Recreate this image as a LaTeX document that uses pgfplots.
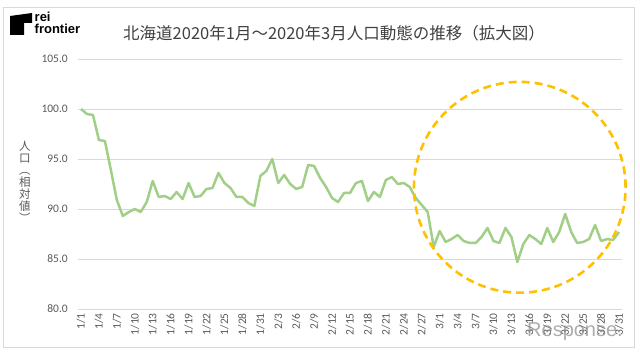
\documentclass[border=0pt]{standalone}
\usepackage{pgfplots}
\pgfplotsset{compat=1.18}
\usepackage{fontspec}
\setmainfont{Carlito}
\newfontfamily\cjk{Noto Sans CJK JP}
\newfontfamily\logofont{Liberation Sans}
\definecolor{linegreen}{HTML}{A2CF88}
\definecolor{circ}{HTML}{FFC000}
\definecolor{gridgray}{HTML}{D9D9D9}
\definecolor{txtgray}{HTML}{595959}
\definecolor{titlegray}{HTML}{404040}
\begin{document}
\begin{tikzpicture}
\path[use as bounding box] (0,0) rectangle (640pt,353pt);
\draw[gridgray, line width=0.8pt] (3pt,6pt) rectangle (634pt,346pt);
% logo
\fill[black] (10pt,337pt) -- (32pt,340pt) -- (32pt,330pt) -- (24pt,330pt) -- (24pt,318pt) -- (10pt,318pt) -- cycle;
\node[anchor=base west, inner sep=0pt, font=\logofont\bfseries\fontsize{13}{13}\selectfont] at (34.5pt,331.5pt) {rei};
\node[anchor=base west, inner sep=0pt, font=\logofont\bfseries\fontsize{13}{13}\selectfont] at (34.5pt,319pt) {frontier};
% title
\node[font=\cjk\fontsize{16.5}{16.5}\selectfont, text=titlegray, inner sep=0pt] at (334pt,320pt) {北海道2020年1月～2020年3月人口動態の推移（拡大図）};
% y label
\node[align=center, font=\cjk\fontsize{11.5}{12}\selectfont, text=txtgray, inner sep=0pt] at (25pt,171pt) {人\\口\\︵\\相\\対\\値\\︶};
\begin{axis}[
  at={(78pt,44pt)}, anchor=south west,
  scale only axis, width=544pt, height=250pt,
  xmin=-0.5, xmax=90.5, ymin=80, ymax=105,
  ytick={80,85,90,95,100,105},
  xtick={0,3,...,90},
  xticklabels={1/1,1/4,1/7,1/10,1/13,1/16,1/19,1/22,1/25,1/28,1/31,2/3,2/6,2/9,2/12,2/15,2/18,2/21,2/24,2/27,3/1,3/4,3/7,3/10,3/13,3/16,3/19,3/22,3/25,3/28,3/31},
  yticklabel={\pgfmathprintnumber[fixed,fixed zerofill,precision=1]{\tick}},
  /pgf/number format/assume math mode=true,
  ymajorgrids, grid style={gridgray, line width=0.8pt},
  axis line style={draw=none},
  major tick length=0pt,
  tick label style={font=\fontsize{11.5}{12}\selectfont, text=txtgray},
  xticklabel style={rotate=90, anchor=east, inner sep=0pt},
  yticklabel style={anchor=east, inner sep=0pt},
  xticklabel shift=4pt, yticklabel shift=10pt,
  clip=false,
]
\addplot[linegreen, line width=2.5pt, line join=round, mark=none] table[x=d, y=v] {
d v
0 100.0
1 99.5
2 99.4
3 96.9
4 96.8
5 93.9
6 90.9
7 89.3
8 89.7
9 90.0
10 89.7
11 90.7
12 92.8
13 91.2
14 91.3
15 91.0
16 91.7
17 91.0
18 92.6
19 91.2
20 91.3
21 92.0
22 92.1
23 93.6
24 92.6
25 92.1
26 91.2
27 91.2
28 90.6
29 90.3
30 93.3
31 93.8
32 95.0
33 92.6
34 93.4
35 92.5
36 92.0
37 92.2
38 94.4
39 94.3
40 93.1
41 92.2
42 91.1
43 90.7
44 91.6
45 91.6
46 92.6
47 92.8
48 90.8
49 91.7
50 91.2
51 92.9
52 93.2
53 92.5
54 92.6
55 92.2
56 91.1
57 90.4
58 89.7
59 86.2
60 87.8
61 86.7
62 87.0
63 87.4
64 86.8
65 86.6
66 86.6
67 87.2
68 88.1
69 86.8
70 86.6
71 88.1
72 87.2
73 84.7
74 86.5
75 87.4
76 87.0
77 86.5
78 88.1
79 86.7
80 87.7
81 89.5
82 87.7
83 86.6
84 86.7
85 87.0
86 88.4
87 86.8
88 87.0
89 86.9
90 87.7
};
\draw[circ, line width=2.6pt, dash pattern=on 8pt off 5pt] (axis cs:73.4,92.17) ellipse [x radius=17.7, y radius=10.54];
\end{axis}
% watermark
\node[font=\logofont\fontsize{20}{20}\selectfont, text=gray, opacity=0.65, inner sep=0pt] at (575pt,21pt) {Response.};
\end{tikzpicture}
\end{document}
